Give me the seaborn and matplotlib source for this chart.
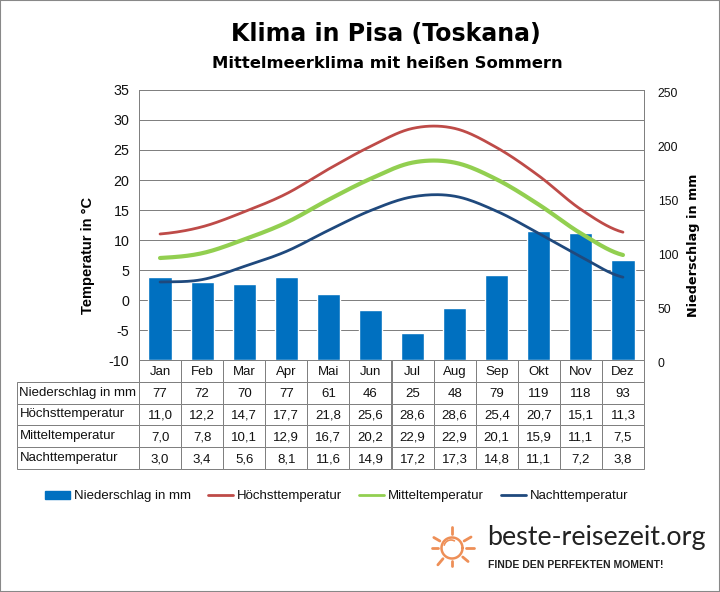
import numpy as np
import pandas as pd
import seaborn as sns
import matplotlib.pyplot as plt
from matplotlib.patches import Rectangle
from matplotlib.lines import Line2D
from matplotlib.transforms import ScaledTranslation

months = ['Jan', 'Feb', 'Mar', 'Apr', 'Mai', 'Jun', 'Jul', 'Aug', 'Sep', 'Okt', 'Nov', 'Dez']
rain = [77, 72, 70, 77, 61, 46, 25, 48, 79, 119, 118, 93]
t_max = [11.0, 12.2, 14.7, 17.7, 21.8, 25.6, 28.6, 28.6, 25.4, 20.7, 15.1, 11.3]
t_mean = [7.0, 7.8, 10.1, 12.9, 16.7, 20.2, 22.9, 22.9, 20.1, 15.9, 11.1, 7.5]
t_night = [3.0, 3.4, 5.6, 8.1, 11.6, 14.9, 17.2, 17.3, 14.8, 11.1, 7.2, 3.8]

W, H = 720, 592
BLUE = '#0070C0'
RED = '#BE4B48'
GREEN = '#92CF50'
NAVY = '#1F497D'
GRID = '#808080'
ORANGE = '#EE8F57'


def fx(px):
    return px / W


def fy(px):
    return 1 - px / H


def smooth(y, n=20):
    # excel style smoothed line, goes through every value
    x = np.arange(len(y))
    p = np.array([y[0]] + list(y) + [y[-1]], dtype=float)
    xs, ys = [], []
    for i in range(len(y) - 1):
        t = np.linspace(0, 1, n, endpoint=False)
        a, b, c, d = p[i], p[i + 1], p[i + 2], p[i + 3]
        ys.extend(0.5 * (2 * b + (c - a) * t + (2 * a - 5 * b + 4 * c - d) * t ** 2
                         + (3 * b - a - 3 * c + d) * t ** 3))
        xs.extend(x[i] + t)
    xs.append(x[-1])
    ys.append(y[-1])
    return np.array(xs), np.array(ys)


def fmt(vals):
    return [f'{v:.1f}'.replace('.', ',') for v in vals]


sns.set_theme(style='white')
plt.rcParams['font.family'] = ['Liberation Sans', 'DejaVu Sans']
plt.rcParams['axes.unicode_minus'] = False

fig = plt.figure(figsize=(W / 100, H / 100), dpi=100)
box = [fx(139), fy(360), fx(644) - fx(139), fy(90) - fy(360)]

# temperature axis carries the grid, bars sit above it, lines above the bars
ax = fig.add_axes(box)
ax_bar = ax.twinx()
ax_line = ax.twinx()

ax.set_ylim(-10, 35)
ax.set_yticks(range(-10, 36, 5))
ax.yaxis.grid(True, color=GRID, lw=0.72)
ax.xaxis.grid(False)
ax.tick_params(axis='y', labelsize=10.3, length=0, pad=7, colors='#111111')
ax.set_xticks([])

bars = pd.DataFrame({'month': months, 'rain': rain})
sns.barplot(data=bars, x='month', y='rain', color=BLUE, saturation=1, width=0.55, ax=ax_bar)
ax_bar.set_ylim(0, 250)
ax_bar.set_yticks(range(0, 251, 50))
ax_bar.tick_params(axis='y', labelsize=8.8, length=0, pad=10, colors='#111111')
ax_bar.set_xlabel('')
ax_bar.set_ylabel('')
ax_bar.yaxis.tick_right()
ax_bar.set_xticks([])
# right labels sit a little under their gridline in the original
down = ScaledTranslation(0, -2.5 / 100, fig.dpi_scale_trans)
for lab in ax_bar.get_yticklabels():
    lab.set_transform(lab.get_transform() + down)

for vals, col, lw in [(t_max, RED, 2.0), (t_mean, GREEN, 3.0), (t_night, NAVY, 2.0)]:
    xs, ys = smooth(vals)
    sns.lineplot(x=xs, y=ys, color=col, lw=lw, ax=ax_line, legend=False, estimator=None, sort=False)
ax_line.set_ylim(-10, 35)
ax_line.set_yticks([])
ax_line.set_ylabel('')
ax_line.set_xlim(-0.5, 11.5)
ax_line.set_xticks([])

for s in ax.spines.values():
    s.set_color(GRID)
    s.set_linewidth(0.72)
for a in (ax_bar, ax_line):
    for s in a.spines.values():
        s.set_visible(False)

# data table under the plot
rows = [[''] + months,
        ['Niederschlag in mm'] + [str(v) for v in rain],
        ['Höchsttemperatur'] + fmt(t_max),
        ['Mitteltemperatur'] + fmt(t_mean),
        ['Nachttemperatur'] + fmt(t_night)]
col_w = [122 / 505] + [1 / 12] * 12
tab = ax_line.table(cellText=rows, colWidths=col_w, cellLoc='center',
                    bbox=[-122 / 505, -109 / 270, 1 + 122 / 505, 109 / 270])
tab.auto_set_font_size(False)
tab.set_fontsize(9.5)
for (r, c), cell in tab.get_celld().items():
    cell.set_edgecolor(GRID)
    cell.set_linewidth(0.72)
    cell.get_text().set_color('#111111')
    if c == 0:
        cell.PAD = 0.02
        cell.set_text_props(ha='left')
    else:
        cell.set_text_props(va='center_baseline')
    if r == 0 and c == 0:
        cell.set_edgecolor('none')
        cell.set_facecolor('none')

fig.text(fx(386), fy(34.5), 'Klima in Pisa (Toskana)', fontsize=17, fontweight='bold',
         family='DejaVu Sans', color='black', ha='center', va='center')
fig.text(fx(387), fy(63), 'Mittelmeerklima mit heißen Sommern', fontsize=11.8, fontweight='bold',
         family='DejaVu Sans', color='black', ha='center', va='center')
fig.text(fx(88), fy(255), 'Temperatur in °C', fontsize=10.5, fontweight='bold', color='black',
         rotation=90, ha='center', va='center')
fig.text(fx(693), fy(245), 'Niederschlag in mm', fontsize=9.2, fontweight='bold', family='DejaVu Sans',
         color='black', rotation=90, ha='center', va='center')

handles = [Rectangle((0, 0), 1, 1, color=BLUE),
           Line2D([], [], color=RED, lw=2),
           Line2D([], [], color=GREEN, lw=2),
           Line2D([], [], color=NAVY, lw=2)]
labels = ['Niederschlag in mm', 'Höchsttemperatur', 'Mitteltemperatur', 'Nachttemperatur']
fig.legend(handles, labels, ncol=4, loc='center', bbox_to_anchor=(fx(337), fy(496.5)), frameon=False,
           fontsize=9.5, handlelength=1.9, handleheight=0.55, handletextpad=0.3, columnspacing=1.28,
           labelcolor='#111111')

# logo bottom right
sx, sy = 452, 548
for ang, r0, r1 in [(90, 14, 21), (30, 14, 22), (0, 14, 22), (-40, 14, 21), (-90, 13, 18),
                    (-130, 14, 22), (180, 14, 20), (150, 14, 21)]:
    ca, sa = np.cos(np.radians(ang)), np.sin(np.radians(ang))
    fig.add_artist(Line2D([fx(sx + r0 * ca), fx(sx + r1 * ca)], [fy(sy - r0 * sa), fy(sy - r1 * sa)],
                          color=ORANGE, lw=2, solid_capstyle='round'))
theta = np.linspace(0, 2 * np.pi, 60)
fig.add_artist(Line2D(fx(sx + 10.5 * np.cos(theta)), fy(sy + 10.5 * np.sin(theta)), color=ORANGE, lw=1.8))
fig.add_artist(Line2D(fx(sx - 1 + 7 * np.cos(theta[32:50])), fy(sy - 1 + 7 * np.sin(theta[32:50])),
                      color=ORANGE, lw=1.2))
fig.text(fx(487), fy(538), 'beste-reisezeit.org', fontsize=19.4, family='Lato',
         color='#222222', ha='left', va='center')
fig.text(fx(488), fy(565), 'FINDE DEN PERFEKTEN MOMENT!', fontsize=7.5, family='Liberation Sans', fontweight='bold',
         color='#222222', ha='left', va='center')

# thin frame around the picture
fig.add_artist(Rectangle((0, 0), 1, 1, transform=fig.transFigure, fill=False, edgecolor='#888888', lw=1.5))

fig.savefig('out.png', dpi=100)
